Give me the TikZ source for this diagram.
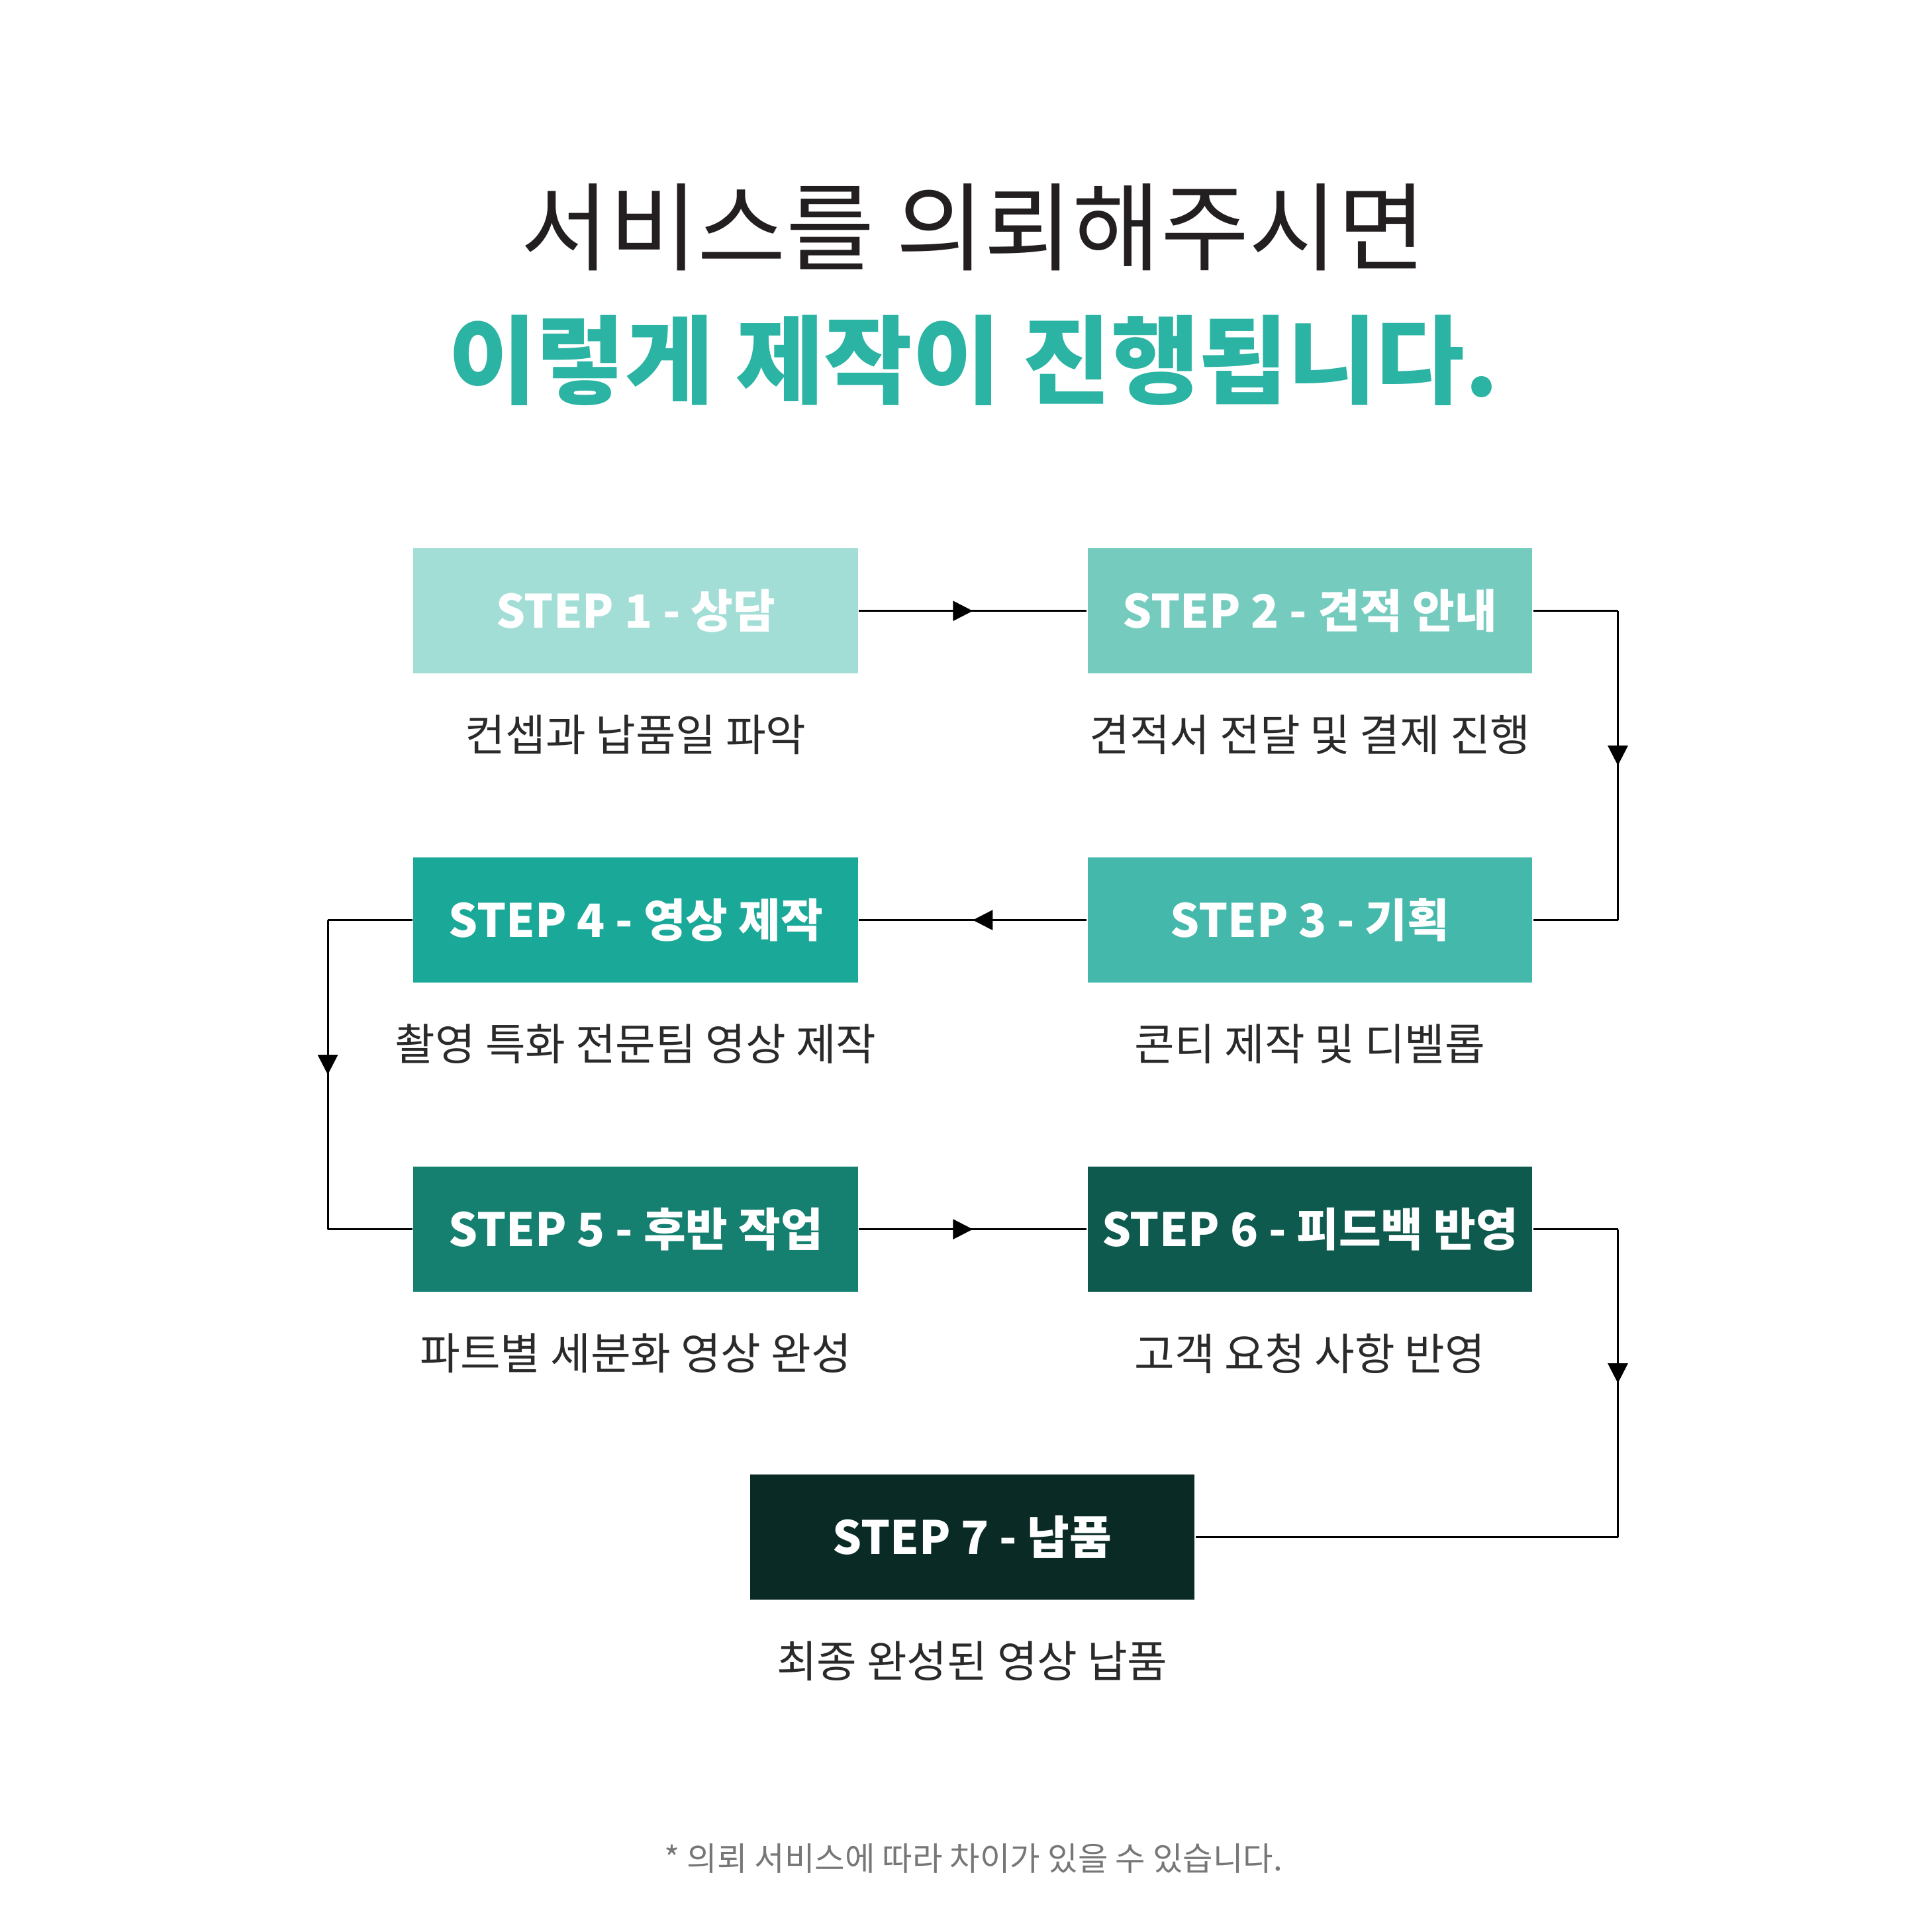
\documentclass[tikz,border=0pt]{standalone}
\usepackage{fontspec}
\setmainfont{Noto Sans CJK KR}
\usepackage{tikz}
\usetikzlibrary{arrows.meta, positioning, decorations.markings}
\definecolor{stepone}{HTML}{A3DED6}
\definecolor{steptwo}{HTML}{74CBBE}
\definecolor{stepthree}{HTML}{45B8AC}
\definecolor{stepfour}{HTML}{1AA898}
\definecolor{stepfive}{HTML}{158070}
\definecolor{stepsix}{HTML}{0F5A4E}
\definecolor{stepseven}{HTML}{0A2A25}
\definecolor{titleteal}{HTML}{2BB3A3}
\definecolor{titledark}{HTML}{231F20}
\definecolor{descgray}{HTML}{2A2A2A}
\definecolor{notegray}{HTML}{777777}

\begin{document}
\begin{tikzpicture}[
    x=0.01cm, y=-0.01cm,
    stepbox/.style={rectangle, minimum width=3.58cm, minimum height=1.01cm, inner sep=0pt, text=white, font=\fontsize{10.5}{12}\selectfont\bfseries},
    desc/.style={font=\fontsize{10}{12}\selectfont, text=descgray},
    link/.style={line width=0.45pt, black},
    midarrow/.style={link, postaction={decorate}, decoration={markings, mark=at position 0.5 with {\arrow{Triangle[length=1.6mm, width=1.6mm]}}}}
]
\useasboundingbox (0,0) rectangle (1556,1556);

% title
\node[font=\fontsize{22}{26}\selectfont, text=titledark] (title) at (784,183) {서비스를 의뢰해주시면};
\node[font=\fontsize{22}{26}\selectfont\bfseries, text=titleteal] (subtitle) at (784,290) {이렇게 제작이 진행됩니다.};

% steps
\node[stepbox, fill=stepone] (s1) at (512,492) {STEP 1 - 상담};
\node[stepbox, fill=steptwo] (s2) at (1055,492) {STEP 2 - 견적 안내};
\node[stepbox, fill=stepthree] (s3) at (1055,741) {STEP 3 - 기획};
\node[stepbox, fill=stepfour] (s4) at (512,741) {STEP 4 - 영상 제작};
\node[stepbox, fill=stepfive] (s5) at (512,990) {STEP 5 - 후반 작업};
\node[stepbox, fill=stepsix] (s6) at (1055,990) {STEP 6 - 피드백 반영};
\node[stepbox, fill=stepseven] (s7) at (783,1238) {STEP 7 - 납품};

% descriptions
\node[desc] (d1) at (512,592) {컨셉과 납품일 파악};
\node[desc] (d2) at (1055,592) {견적서 전달 및 결제 진행};
\node[desc] (d3) at (1055,841) {콘티 제작 및 디벨롭};
\node[desc] (d4) at (512,841) {촬영 특화 전문팀 영상 제작};
\node[desc] (d5) at (512,1090) {파트별 세분화 영상 완성};
\node[desc] (d6) at (1055,1090) {고객 요청 사항 반영};
\node[desc] (d7) at (783,1338) {최종 완성된 영상 납품};

% corners
\coordinate (c2a) at (1303,492);
\coordinate (c2b) at (1303,741);
\coordinate (c4a) at (264,741);
\coordinate (c4b) at (264,990);
\coordinate (c6a) at (1303,990);
\coordinate (c6b) at (1303,1238);

% connectors
\draw[midarrow] (s1.east) -- (s2.west);
\draw[link] (s2.east) -- (c2a);
\draw[midarrow] (c2a) -- (c2b);
\draw[link] (c2b) -- (s3.east);
\draw[midarrow] (s3.west) -- (s4.east);
\draw[link] (s4.west) -- (c4a);
\draw[midarrow] (c4a) -- (c4b);
\draw[link] (c4b) -- (s5.west);
\draw[midarrow] (s5.east) -- (s6.west);
\draw[link] (s6.east) -- (c6a);
\draw[midarrow] (c6a) -- (c6b);
\draw[link] (c6b) -- (s7.east);

% note
\node[font=\fontsize{7.5}{9}\selectfont, text=notegray] (note) at (784,1497) {* 의뢰 서비스에 따라 차이가 있을 수 있습니다.};
\end{tikzpicture}
\end{document}
